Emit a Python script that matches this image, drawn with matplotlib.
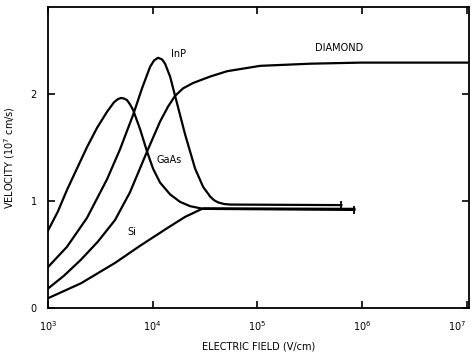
import numpy as np
import matplotlib
matplotlib.use("Agg")
import matplotlib.pyplot as plt

# electric field (V/cm) and drift velocity (1e7 cm/s)
gaas_e = [1000, 1246, 1520, 1894, 2362, 2944, 3669, 4281, 4676, 4995, 5338,
          5702, 6090, 6508, 7594, 8860, 10110, 11800, 14710, 18330, 22850,
          30430, 847000]
gaas_v = [0.72, 0.90, 1.10, 1.30, 1.50, 1.68, 1.83, 1.92, 1.95, 1.96, 1.955,
          1.94, 1.90, 1.85, 1.67, 1.46, 1.30, 1.17, 1.06, 0.99, 0.95,
          0.925, 0.915]

inp_e = [1000, 1520, 2362, 3669, 4887, 6508, 7935, 9465, 10330, 11290, 12330,
         13170, 14710, 16420, 20460, 25510, 30430, 35500, 38770, 42360, 48330,
         55150, 637000]
inp_v = [0.38, 0.57, 0.84, 1.20, 1.48, 1.80, 2.05, 2.25, 2.31, 2.335, 2.32,
         2.28, 2.16, 1.98, 1.62, 1.30, 1.13, 1.04, 1.005, 0.985, 0.97,
         0.965, 0.96]

dia_e = [1000, 1422, 2069, 3010, 4377, 6090, 8860, 11800, 14070, 16420, 19590,
         24410, 35500, 51630, 106800, 321600, 967400, 1.1e7]
dia_v = [0.18, 0.30, 0.45, 0.62, 0.82, 1.08, 1.46, 1.74, 1.88, 1.98, 2.05,
         2.10, 2.16, 2.21, 2.26, 2.28, 2.29, 2.29]

si_e = [1000, 2069, 4377, 7594, 14070, 20460, 30430, 847000]
si_v = [0.09, 0.23, 0.42, 0.58, 0.75, 0.85, 0.93, 0.925]

xticks = [1e3, 1e4, 1e5, 1e6, 1e7]
xticklabels = ["$10^3$", "$10^4$", "$10^5$", "$10^6$", "$10^7$"]
yticks = [0, 1, 2]

fig = plt.figure(figsize=(4.74, 3.64), dpi=100)
ax = fig.add_axes([0.101, 0.154, 0.888, 0.827])

for e, v in [(gaas_e, gaas_v), (inp_e, inp_v), (dia_e, dia_v), (si_e, si_v)]:
    ax.plot(e, v, color="black", lw=1.6, solid_joinstyle="round")

# end bars on the saturated lines
ax.plot([inp_e[-1]], [inp_v[-1]], marker="|", ms=6, mew=1.3, color="black")
ax.plot([gaas_e[-1]], [gaas_v[-1]], marker="|", ms=6, mew=1.3, color="black")

ax.set_xscale("log")
ax.set_xlim(1e3, 1.05e7)
ax.set_ylim(0, 2.81)
ax.set_xticks(xticks)
ax.set_xticklabels(xticklabels)
ax.set_yticks(yticks)
ax.minorticks_off()
ax.tick_params(direction="in", top=True, right=True, length=5, width=1.2,
               labelsize=7, pad=8)
for s in ax.spines.values():
    s.set_linewidth(1.3)
# last label sits at the right edge, keep it inside the picture
ax.get_xticklabels()[-1].set_horizontalalignment("right")

fs = 7
ax.text(1.5e4, 2.37, "InP", fontsize=fs, ha="left", va="center")
ax.text(1.45e4, 1.38, "GaAs", fontsize=fs, ha="center", va="center")
ax.text(6.4e3, 0.71, "Si", fontsize=fs, ha="center", va="center")
ax.text(6.0e5, 2.43, "DIAMOND", fontsize=fs, ha="center", va="center")

ax.set_xlabel("ELECTRIC FIELD (V/cm)", fontsize=7, labelpad=6)
ax.set_ylabel("VELOCITY (10$^7$ cm/s)", fontsize=7, labelpad=10)

fig.savefig("out.png", dpi=100)
